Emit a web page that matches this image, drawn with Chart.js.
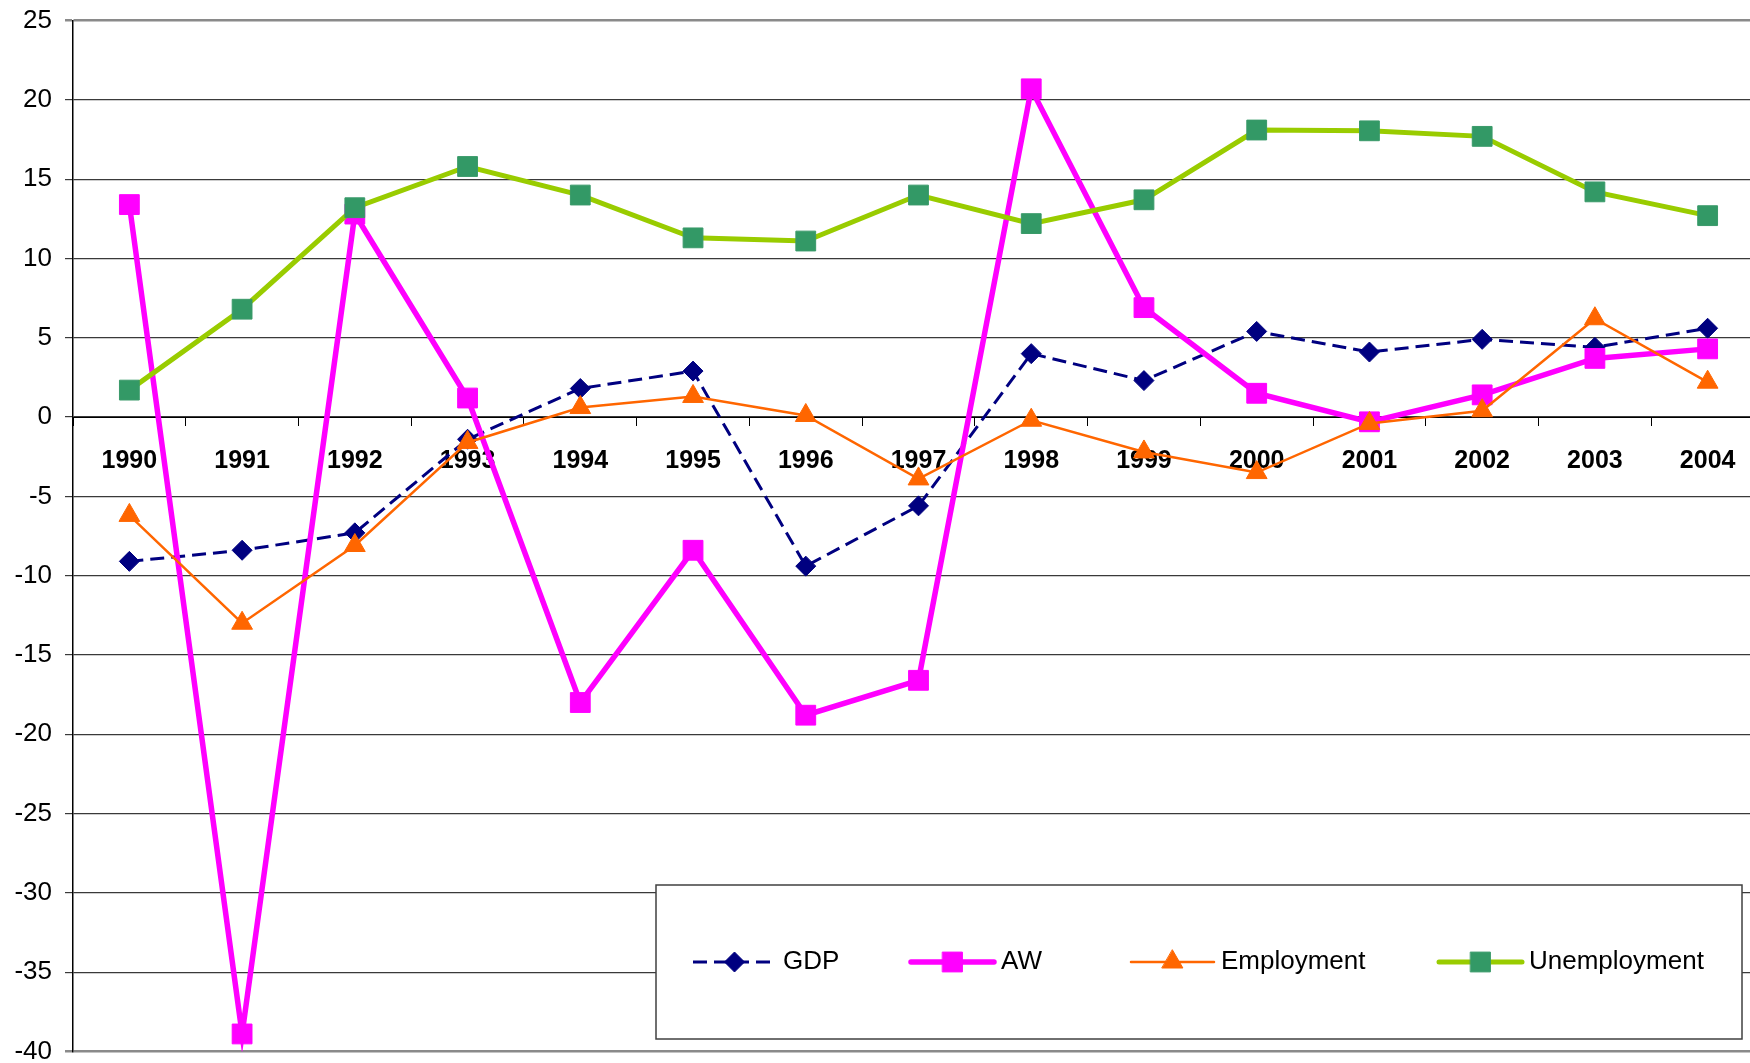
<!DOCTYPE html>
<html><head><meta charset="utf-8">
<script src="https://cdn.jsdelivr.net/npm/chart.js@4/dist/chart.umd.min.js"></script>
<style>
html,body{margin:0;padding:0;background:#fff;overflow:hidden;width:1750px;height:1063px}
#wrap{position:absolute;left:0;top:-8px;width:1779px;height:1088px}
</style>
</head><body><div id="wrap"><canvas id="c"></canvas></div>
<script>
const years = ['1990','1991','1992','1993','1994','1995','1996','1997','1998','1999','2000','2001','2002','2003','2004'];
const gdp = [-9.1,-8.4,-7.3,-1.4,1.8,2.9,-9.4,-5.6,4.0,2.3,5.4,4.1,4.9,4.4,5.6];
const aw = [13.4,-38.9,12.8,1.2,-18.0,-8.4,-18.8,-16.6,20.7,6.9,1.5,-0.3,1.4,3.7,4.3];
const employment = [-6.2,-13.0,-8.1,-1.6,0.6,1.3,0.1,-3.9,-0.2,-2.2,-3.5,-0.4,0.4,6.2,2.2];
const unemployment = [1.7,6.8,13.2,15.8,14.0,11.3,11.1,14.0,12.2,13.7,18.1,18.05,17.7,14.2,12.7];
const seriesNames = ['GDP','AW','Employment','Unemployment'];
const yMin = -40, yMax = 25, yStep = 5;

const FONT = '"Liberation Sans", Arial, sans-serif';
const OFFY = 8; // canvas is shifted up by this many pixels on the page

function drawMarker(ctx, style, r, x, y){
  ctx.beginPath();
  if (style === 'rect') {
    const s = Math.SQRT1_2 * r;
    ctx.rect(x - s, y - s, 2*s, 2*s);
  } else if (style === 'rectRot') {
    ctx.moveTo(x - r, y); ctx.lineTo(x, y - r); ctx.lineTo(x + r, y); ctx.lineTo(x, y + r); ctx.closePath();
  } else if (style === 'triangle') {
    let a = 0;
    ctx.moveTo(x + Math.sin(a)*r, y - Math.cos(a)*r);
    a += 2*Math.PI/3; ctx.lineTo(x + Math.sin(a)*r, y - Math.cos(a)*r);
    a += 2*Math.PI/3; ctx.lineTo(x + Math.sin(a)*r, y - Math.cos(a)*r);
    ctx.closePath();
  }
  ctx.fill(); ctx.stroke();
}

const boxLegend = {
  id: 'boxLegend',
  afterDraw(chart){
    const ctx = chart.ctx;
    const L = 656, T = 885 + OFFY, R = 1742, B = 1039 + OFFY;
    ctx.save();
    ctx.fillStyle = '#fff';
    ctx.fillRect(L, T, R - L, B - T);
    ctx.strokeStyle = '#404040'; ctx.lineWidth = 1.5;
    ctx.strokeRect(L, T, R - L, B - T);
    const cy = (T + B) / 2;
    const starts = [693, 911, 1131, 1439];
    chart.data.datasets.forEach((ds, i) => {
      const x0 = starts[i], x1 = x0 + 83;
      ctx.save();
      ctx.strokeStyle = ds.borderColor; ctx.lineWidth = ds.borderWidth;
      ctx.setLineDash(ds.borderDash || []);
      ctx.lineCap = ds.borderDash ? 'butt' : 'round';
      ctx.beginPath(); ctx.moveTo(x0, cy); ctx.lineTo(x1, cy); ctx.stroke();
      ctx.setLineDash([]);
      ctx.fillStyle = ds.pointBackgroundColor; ctx.strokeStyle = ds.pointBorderColor; ctx.lineWidth = ds.pointBorderWidth;
      drawMarker(ctx, ds.pointStyle, ds.pointRadius, (x0 + x1) / 2, cy);
      ctx.restore();
      ctx.fillStyle = '#000'; ctx.font = '26px ' + FONT;
      ctx.textBaseline = 'middle'; ctx.textAlign = 'left';
      ctx.fillText(ds.label, x1 + 7, cy);
    });
    ctx.restore();
  }
};

new Chart(document.getElementById('c'), {
  type: 'line',
  data: {
    labels: years,
    datasets: [
      { label: seriesNames[0], data: gdp, order: 4, borderColor: '#000080', borderWidth: 3, borderDash: [14, 7],
        pointStyle: 'rectRot', pointRadius: 10, pointBackgroundColor: '#000080', pointBorderColor: '#000080', pointBorderWidth: 1 },
      { label: seriesNames[1], data: aw, order: 3, borderColor: '#ff00ff', borderWidth: 5.5,
        pointStyle: 'rect', pointRadius: 14, pointBackgroundColor: '#ff00ff', pointBorderColor: '#ff00ff', pointBorderWidth: 1 },
      { label: seriesNames[2], data: employment, order: 2, borderColor: '#ff6600', borderWidth: 2.5,
        pointStyle: 'triangle', pointRadius: 12, pointBackgroundColor: '#ff6600', pointBorderColor: '#ff6600', pointBorderWidth: 1 },
      { label: seriesNames[3], data: unemployment, order: 1, borderColor: '#99cc00', borderWidth: 5,
        pointStyle: 'rect', pointRadius: 14, pointBackgroundColor: '#339966', pointBorderColor: '#3a9a6a', pointBorderWidth: 1 }
    ]
  },
  options: {
    responsive: true,
    maintainAspectRatio: false,
    devicePixelRatio: 1,
    animation: false,
    events: [],
    elements: { line: { tension: 0, fill: false } },
    layout: { padding: { top: 20, bottom: 12, left: 0, right: 0 } },
    plugins: { legend: { display: false }, tooltip: { enabled: false } },
    scales: {
      x: {
        type: 'category',
        position: { y: 0 },
        offset: true,
        grid: { display: true, drawOnChartArea: false, drawTicks: true, tickLength: 8, color: '#000', offset: true, lineWidth: 1 },
        border: { display: true, color: '#000', width: 1 },
        ticks: { font: { family: FONT, size: 25, weight: 'bold' }, color: '#000', padding: 21, maxRotation: 0, autoSkip: false }
      },
      y: {
        min: yMin, max: yMax,
        ticks: { stepSize: yStep, font: { family: FONT, size: 26 }, color: '#000', padding: 13 },
        grid: {
          color: c => (c.tick && (c.tick.value === yMax || c.tick.value === yMin)) ? '#8a8a8a' : '#3a3a3a',
          lineWidth: c => (c.tick && (c.tick.value === yMax || c.tick.value === yMin)) ? 2.5 : 1.2,
          tickLength: 8, drawTicks: true
        },
        border: { display: true, color: '#000', width: 1.5 },
        afterFit: s => { s.width = 73; }
      }
    }
  },
  plugins: [boxLegend]
});
</script>
</body></html>
